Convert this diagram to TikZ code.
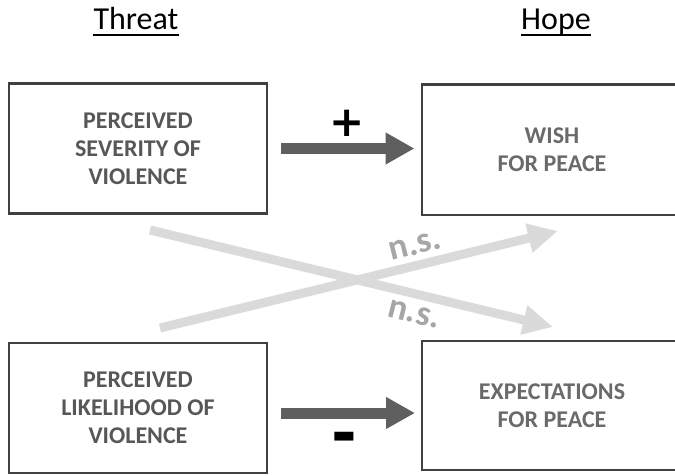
\documentclass[tikz,border=0pt]{standalone}
\usepackage{fontspec}
\setmainfont{Carlito}
\newfontfamily\signfont{DejaVu Sans}
\usetikzlibrary{arrows.meta}
\definecolor{boxline}{HTML}{404040}
\definecolor{txtdark}{HTML}{575757}
\definecolor{txtlight}{HTML}{6A6A6A}
\definecolor{darkarrow}{HTML}{5F5F5F}
\definecolor{lightarrow}{HTML}{DADADA}
\definecolor{nsgray}{HTML}{A6A6A6}
\begin{document}
\begin{tikzpicture}[x=1pt,y=-1pt,
  title/.style={inner sep=0pt, font=\fontsize{32}{38}\selectfont, anchor=base},
  ubar/.style={line width=2pt, black},
  box/.style={draw=boxline, line width=2.5pt, minimum width=258pt, minimum height=130pt,
    inner sep=0pt, align=center, font=\bfseries\fontsize{24}{28}\selectfont},
  darr/.style={draw=darkarrow, line width=11pt, -{Triangle[length=29pt,width=30pt]}},
  larr/.style={draw=lightarrow, line width=9pt, -{Triangle[length=30pt,width=28pt]}},
  nslab/.style={text=nsgray, font=\bfseries\fontsize{36}{36}\selectfont, inner sep=0pt},
  sign/.style={inner sep=0pt, text=black}
]
\useasboundingbox (0,0) rectangle (675,475);
\clip (0,0) rectangle (675,475);

% titles
\node[title] (threat) at (136,29) {Threat};
\node[title] (hope) at (556,29) {Hope};
\draw[ubar] ([yshift=-5.5pt]threat.base west) -- ([yshift=-5.5pt]threat.base east);
\draw[ubar] ([yshift=-5.5pt]hope.base west) -- ([yshift=-5.5pt]hope.base east);

% boxes
\node[box, text=txtdark] (sev) at (138,148.5) {PERCEIVED\\SEVERITY OF\\VIOLENCE};
\node[box, text=txtdark] (lik) at (138,408) {PERCEIVED\\LIKELIHOOD OF\\VIOLENCE};
\node[box, text=txtlight, minimum width=260pt, minimum height=130.5pt] (wish) at (552,149.75) {WISH\\FOR PEACE};
\node[box, text=txtlight, minimum width=260pt, minimum height=129pt] (exp) at (552,405.5) {EXPECTATIONS\\FOR PEACE};

% light crossing arrows
\coordinate (c1s) at (150,230);
\coordinate (c1e) at (553,327);
\coordinate (c2s) at (160,328);
\coordinate (c2e) at (558,231);
\draw[larr] (c1s) -- (c1e);
\draw[larr] (c2s) -- (c2e);
\node[nslab, rotate=14] (ns1) at (415,246) {n.s.};
\node[nslab, rotate=-14] (ns2) at (414,314) {n.s.};

% dark arrows
\coordinate (d1s) at (281,148.5);
\coordinate (d1e) at (414.5,148.5);
\coordinate (d2s) at (281,413);
\coordinate (d2e) at (415,413);
\draw[darr] (d1s) -- (d1e);
\draw[darr] (d2s) -- (d2e);
\node[sign, font=\signfont\bfseries\fontsize{42}{42}\selectfont] (plus) at (347.5,123) {+};
\node[sign, font=\signfont\bfseries\fontsize{62}{62}\selectfont] (minus) at (344.5,443.5) {-};
\end{tikzpicture}
\end{document}
